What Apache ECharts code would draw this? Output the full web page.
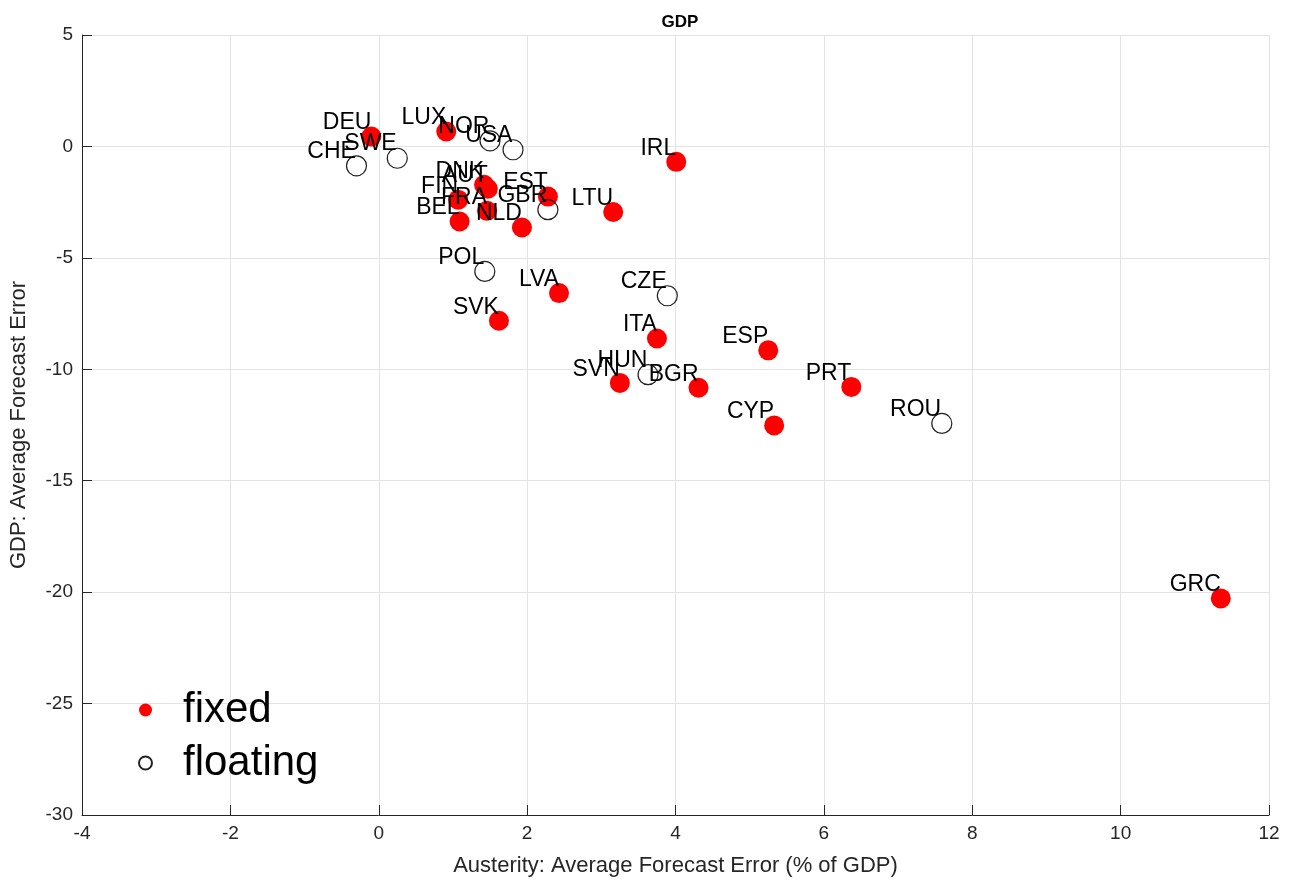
<!DOCTYPE html>
<html>
<head>
<meta charset="utf-8">
<script src="https://cdn.jsdelivr.net/npm/echarts@6/dist/echarts.min.js"></script>
<style>
  html, body { margin: 0; padding: 0; background: #fff; }
  #chart { width: 1294px; height: 882px; }
</style>
</head>
<body>
<div id="chart"></div>
<script>
// Countries with a fixed exchange rate
const fixedNames = ['DEU','LUX','IRL','AUT','DNK','FIN','EST','FRA','BEL','NLD','LTU','LVA','SVK','ITA','ESP','SVN','BGR','PRT','CYP','GRC'];
const fixedX = [-0.10, 0.91, 4.01, 1.47, 1.42, 1.07, 2.28, 1.46, 1.09, 1.93, 3.16, 2.43, 1.62, 3.75, 5.25, 3.25, 4.31, 6.37, 5.33, 11.35];
const fixedY = [0.44, 0.67, -0.69, -1.90, -1.72, -2.39, -2.25, -2.89, -3.37, -3.64, -2.94, -6.58, -7.82, -8.62, -9.15, -10.61, -10.83, -10.79, -12.52, -20.28];

// Countries with a floating exchange rate
const floatNames = ['CHE','SWE','NOR','USA','GBR','POL','CZE','HUN','ROU'];
const floatX = [-0.30, 0.25, 1.50, 1.81, 2.28, 1.43, 3.89, 3.63, 7.59];
const floatY = [-0.87, -0.53, 0.25, -0.15, -2.84, -5.61, -6.70, -10.24, -12.43];

const FONT = '"Liberation Sans", Arial, Helvetica, sans-serif';

function points(names, xs, ys) {
  return names.map((n, i) => ({ name: n, value: [xs[i], ys[i]] }));
}

const pointLabel = {
  show: true,
  formatter: p => p.name,
  position: [10, 8],
  align: 'right',
  verticalAlign: 'bottom',
  color: '#000',
  fontFamily: FONT,
  fontSize: 23
};

const axisCommon = {
  type: 'value',
  nameLocation: 'middle',
  nameTextStyle: { fontFamily: FONT, fontSize: 22, color: '#262626' },
  axisLine: { show: true, onZero: false, lineStyle: { color: '#262626', width: 1 } },
  axisTick: { show: true, inside: true, length: 10, lineStyle: { color: '#262626' } },
  axisLabel: { fontFamily: FONT, fontSize: 19, color: '#262626', margin: 9 },
  splitLine: { show: true, lineStyle: { color: '#e3e3e3', width: 1 } }
};

const chart = echarts.init(document.getElementById('chart'), null, { renderer: 'canvas' });
chart.setOption({
  backgroundColor: '#fff',
  animation: false,
  title: {
    text: 'GDP',
    left: 675, top: 9, textAlign: 'center',
    textStyle: { fontFamily: FONT, fontSize: 17, fontWeight: 'bold', color: '#000' }
  },
  grid: { left: 82, right: 25, top: 35, bottom: 66, containLabel: false },
  legend: {
    orient: 'vertical',
    left: 133, top: 684,
    itemWidth: 13, itemHeight: 13,
    itemGap: 11,
    textStyle: { fontFamily: FONT, fontSize: 42, color: '#000', padding: [0, 0, 0, 26] },
    data: [
      { name: 'fixed', icon: 'circle' },
      { name: 'floating', icon: 'circle' }
    ]
  },
  xAxis: Object.assign({}, axisCommon, {
    min: -4, max: 12, interval: 2,
    name: 'Austerity: Average Forecast Error (% of GDP)',
    nameGap: 40
  }),
  yAxis: Object.assign({}, axisCommon, {
    min: -30, max: 5, interval: 5,
    name: 'GDP: Average Forecast Error',
    nameGap: 52
  }),
  series: [
    {
      name: 'fixed', type: 'scatter', symbol: 'circle', symbolSize: 20,
      itemStyle: { color: '#ff0000', opacity: 1 },
      label: pointLabel,
      emphasis: { disabled: true },
      data: points(fixedNames, fixedX, fixedY)
    },
    {
      name: 'floating', type: 'scatter', symbol: 'circle', symbolSize: 20,
      itemStyle: { color: 'rgba(255,255,255,0)', borderColor: '#222', borderWidth: 1.2, opacity: 1 },
      label: pointLabel,
      emphasis: { disabled: true },
      data: points(floatNames, floatX, floatY)
    }
  ]
});
</script>
</body>
</html>
